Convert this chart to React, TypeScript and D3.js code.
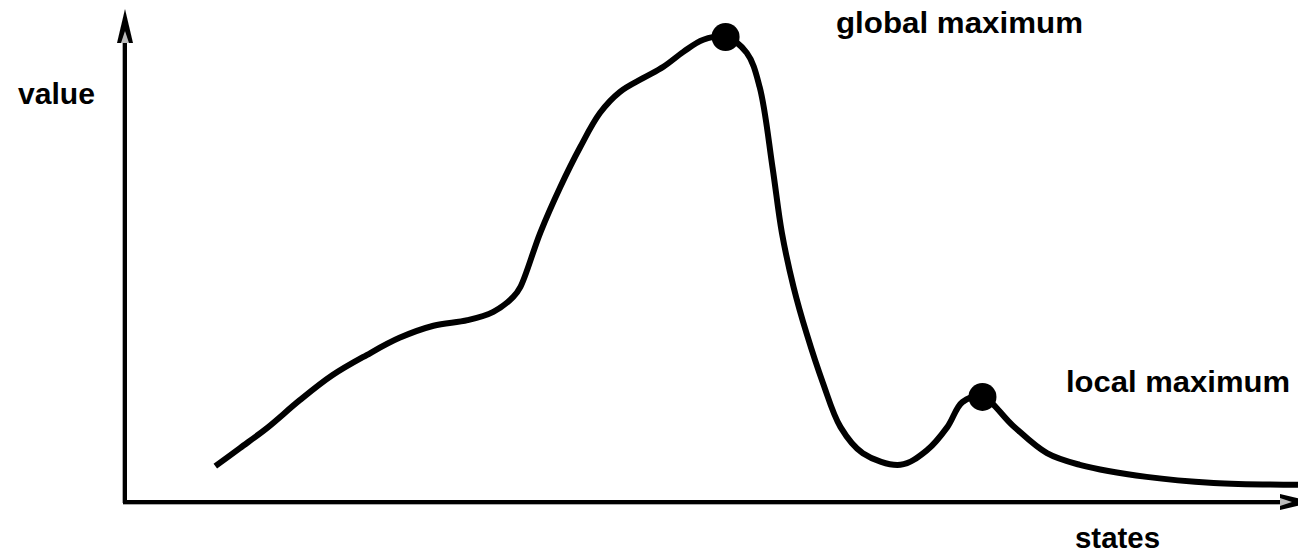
import React from "react";
import * as d3 from "d3";

const W = 1298;
const H = 554;

// curve sample points (state, value)
const states = [7.7, 9.8, 12.1, 14.9, 17.7, 20.6, 23.4, 26.3, 29.2, 31.4, 33.1, 33.7, 35.4, 37.1, 38.8, 40.5, 42.2, 44.2, 45.9, 47.6, 49.3, 51.2, 53.0, 54.1, 55.2, 56.0, 57.0, 58.1, 59.5, 61.0, 62.9, 66.1, 68.4, 70.1, 71.4, 73.1, 75.7, 78.6, 81.4, 87.1, 92.8, 100];
const values = [7.7, 11.6, 15.9, 21.9, 27.3, 31.6, 35.3, 37.9, 39.1, 40.9, 44.1, 46.2, 57.9, 67.7, 76.3, 83.7, 88.2, 91.2, 93.6, 96.8, 99.4, 100, 96.6, 89.3, 72.0, 57.9, 46.2, 36.3, 25.6, 16.1, 10.5, 8.0, 11.2, 16.1, 21.5, 22.6, 16.4, 10.5, 8.0, 5.4, 4.1, 3.7];

// marked maxima
const maxStates = [51.2, 73.1];
const maxValues = [100, 22.6];

const labels = ["global maximum", "local maximum"];
const axisLabels = ["value", "states"];

export default function App() {
  const x = d3.scaleLinear().domain([0, 100]).range([125, 1298]);
  const y = d3.scaleLinear().domain([0, 100]).range([502, 37]);

  const pts: [number, number][] = states.map((s, i) => [s, values[i]]);
  const line = d3
    .line<[number, number]>()
    .x((d) => x(d[0]))
    .y((d) => y(d[1]))
    .curve(d3.curveCatmullRom.alpha(0.5));

  const x0 = x(0);
  const y0 = y(0);
  const font = "'Liberation Sans', Arial, Helvetica, sans-serif";

  return (
    <svg width={W} height={H} style={{ position: "absolute", left: 0, top: 0, background: "#fff" }}>
      {/* axes with slight gray shadow */}
      <line x1={x0 - 1} y1={y0 + 1} x2={x0 - 1} y2={36} stroke="#aaa" strokeWidth={4} />
      <line x1={x0 - 2} y1={y0 + 1} x2={1282} y2={y0 + 1} stroke="#aaa" strokeWidth={4} />
      <line x1={x0} y1={y0} x2={x0} y2={36} stroke="#000" strokeWidth={4} />
      <line x1={x0 - 2} y1={y0} x2={1282} y2={y0} stroke="#000" strokeWidth={4} />
      {/* arrow heads */}
      <path d={`M${x0},9 L${x0 - 8},43 L${x0 + 8},43 Z`} fill="#000" />
      <path d={`M${x0},31 L${x0 - 4},43 L${x0 + 4},43 Z`} fill="#bbb" />
      <path d={`M1314,${y0} L1280,${y0 - 8} L1280,${y0 + 8} Z`} fill="#000" />
      <path d={`M1292,${y0} L1280,${y0 - 4} L1280,${y0 + 4} Z`} fill="#bbb" />

      <path d={line(pts) || ""} fill="none" stroke="#000" strokeWidth={6} strokeLinecap="butt" strokeLinejoin="round" />

      {maxStates.map((s, i) => (
        <circle key={i} cx={x(s)} cy={y(maxValues[i])} r={14} fill="#000" />
      ))}

      <g fontFamily={font} fontWeight="bold" fontSize={29} fill="#000">
        <text x={836} y={33} textLength={247} lengthAdjust="spacingAndGlyphs">{labels[0]}</text>
        <text x={1066} y={392} textLength={224} lengthAdjust="spacingAndGlyphs">{labels[1]}</text>
        <text x={18} y={104} textLength={77} lengthAdjust="spacingAndGlyphs">{axisLabels[0]}</text>
        <text x={1075} y={548} textLength={85} lengthAdjust="spacingAndGlyphs">{axisLabels[1]}</text>
      </g>
    </svg>
  );
}
